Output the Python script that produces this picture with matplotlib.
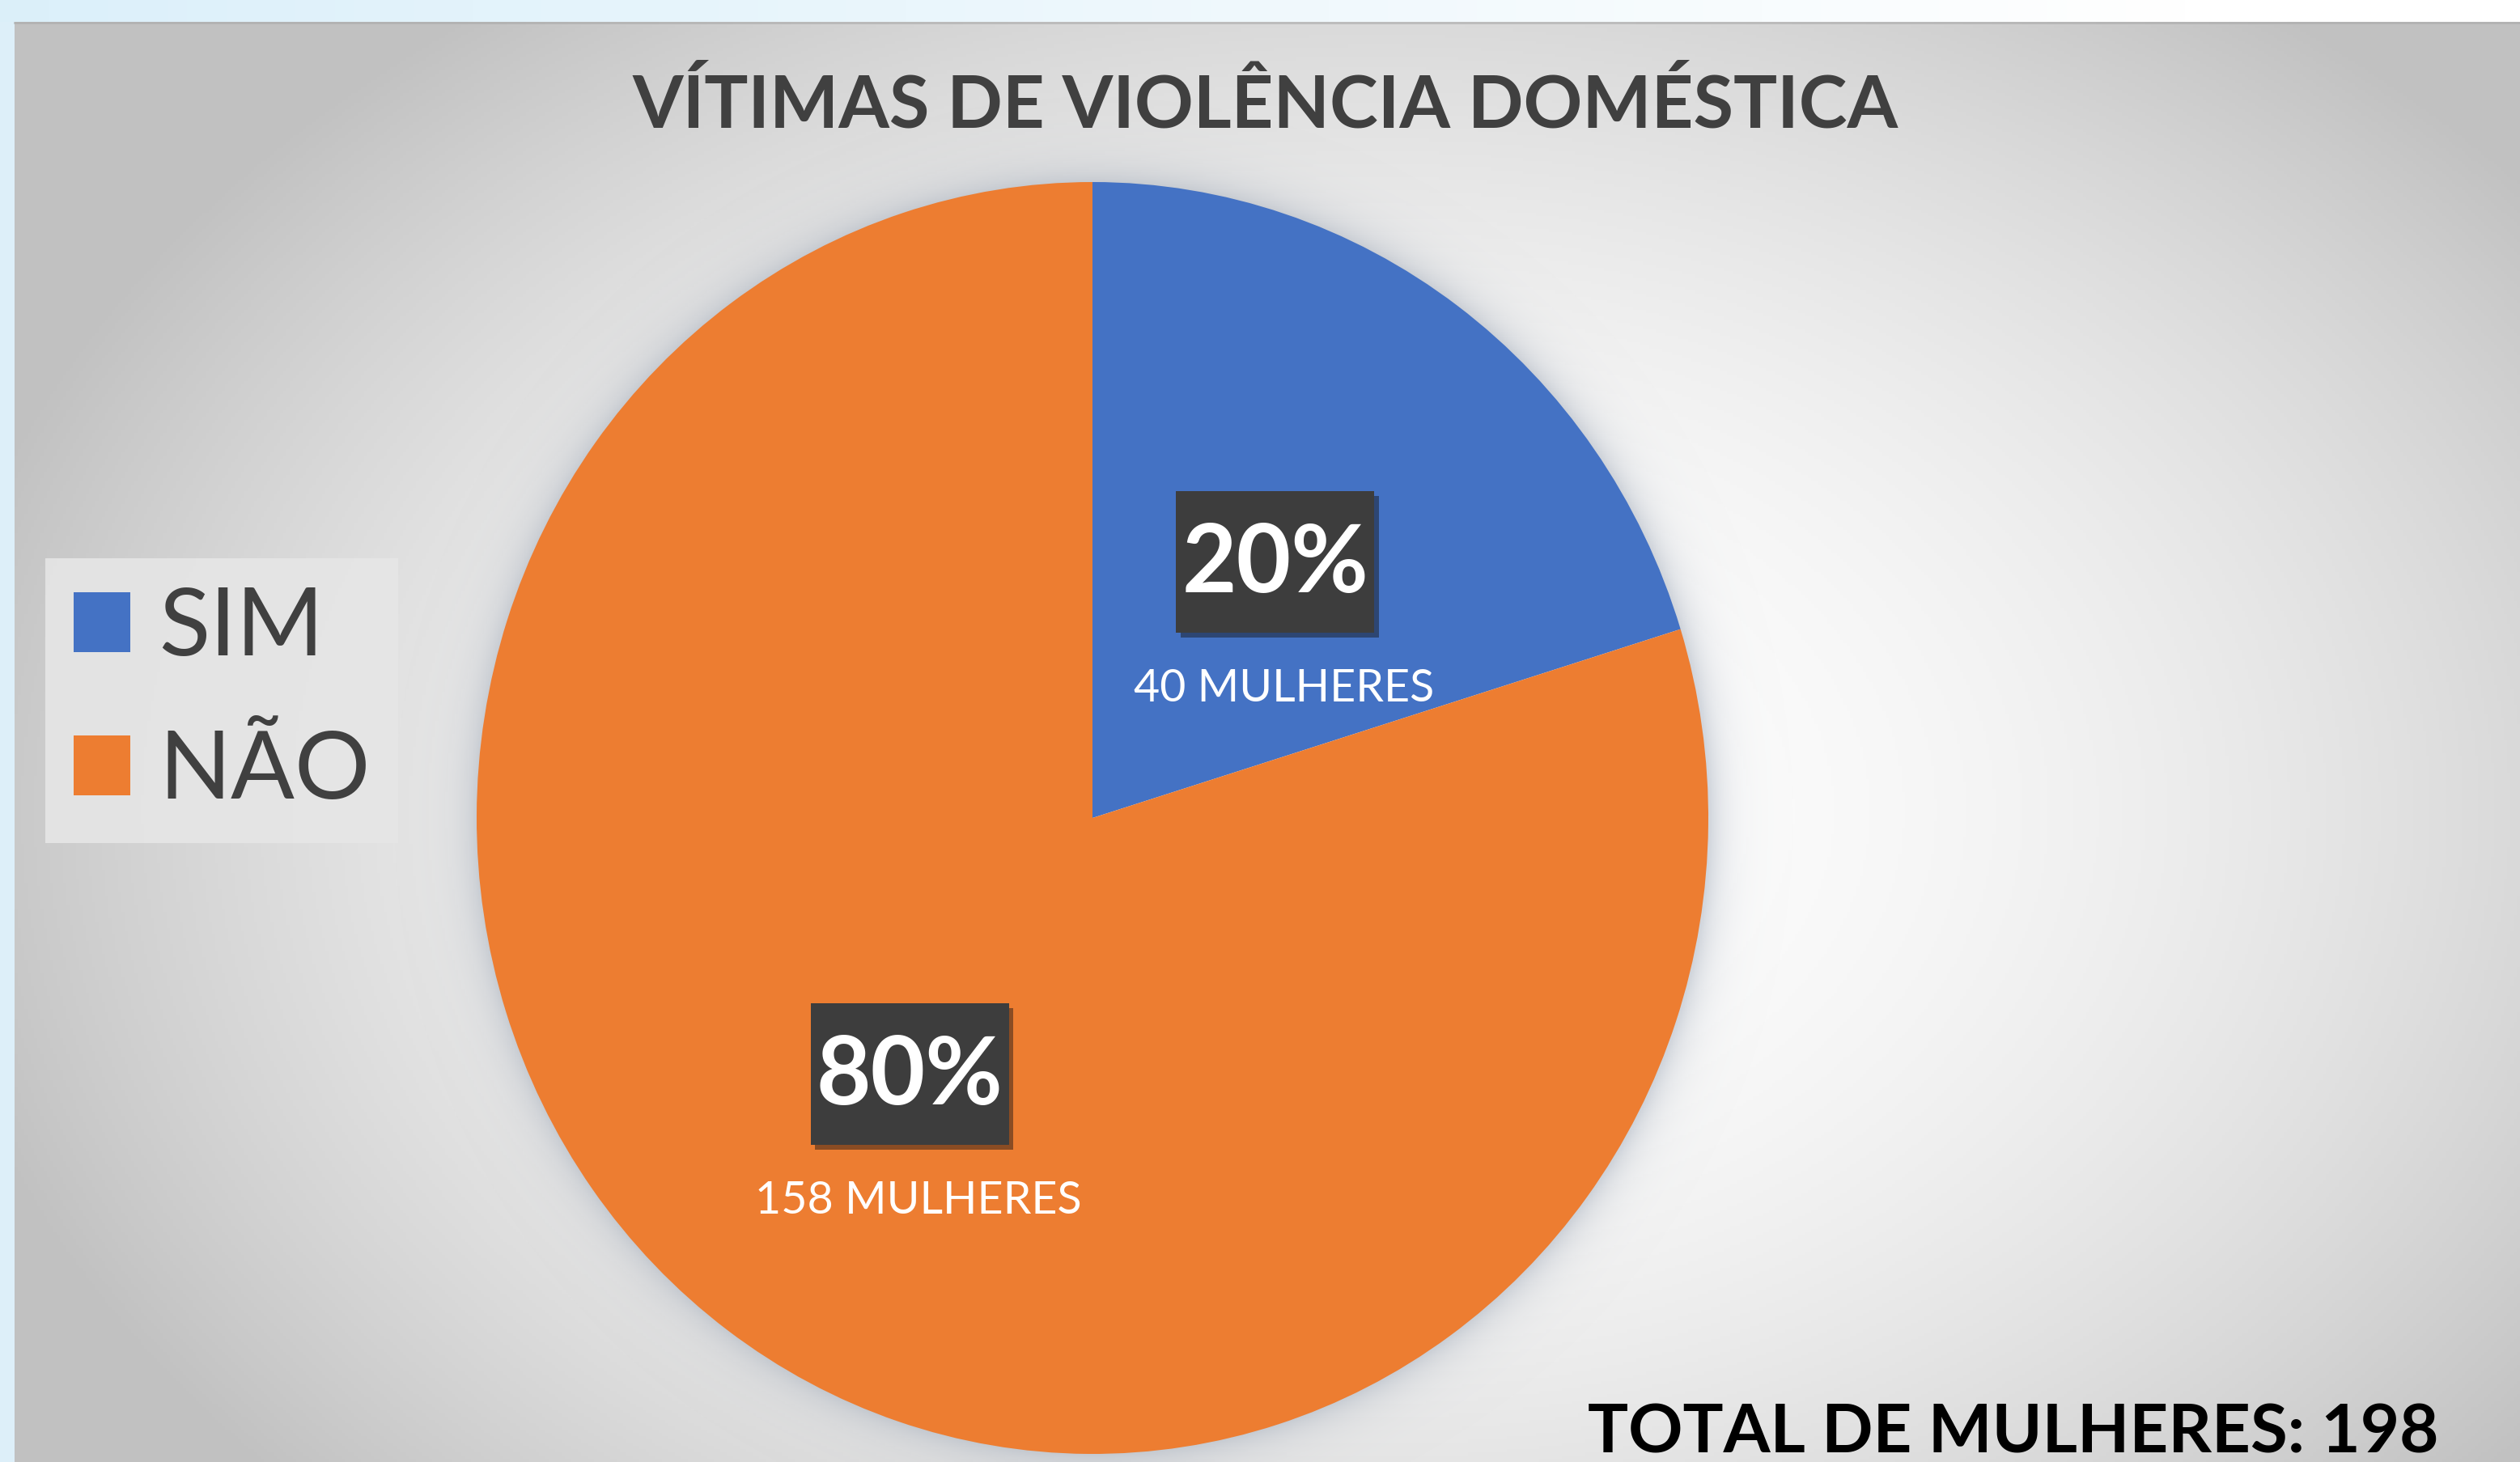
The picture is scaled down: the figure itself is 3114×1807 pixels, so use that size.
import numpy as np
import matplotlib
matplotlib.use('Agg')
import matplotlib.pyplot as plt
import matplotlib.patheffects as pe
from matplotlib.patches import Rectangle

# data
labels = ['SIM', 'NÃO']
counts = [40, 158]
pct_text = ['20%', '80%']
sub_text = ['40 MULHERES', '158 MULHERES']
colors = ['#4472C4', '#ED7D31']
title = 'VÍTIMAS DE VIOLÊNCIA DOMÉSTICA'
total_text = 'TOTAL DE MULHERES: 198'

W, H = 3114, 1807
plt.rcParams['font.family'] = ['Lato', 'DejaVu Sans']

fig = plt.figure(figsize=(W / 100, H / 100), dpi=100)
fig.patch.set_facecolor('#ddeff9')

# background (pixel coords)
bg = fig.add_axes([0, 0, 1, 1])
bg.set_xlim(0, W)
bg.set_ylim(H, 0)
bg.axis('off')

# top band: light blue -> white
band = np.linspace(0, 1, 256)[None, :, None]
c0 = np.array([0.86, 0.94, 0.98])
c1 = np.array([1.0, 1.0, 1.0])
band_img = c0 * (1 - np.clip(band * 1.15, 0, 1)) + c1 * np.clip(band * 1.15, 0, 1)
bg.imshow(band_img, extent=(0, W, 27, 0), aspect='auto', zorder=0)

# panel with radial gradient
px0, py0 = 18, 27
yy, xx = np.mgrid[py0:H:4, px0:W:4]
d2 = ((xx - 1700) / 1800.0) ** 2 + ((yy - 1000) / 1250.0) ** 2
val = 1 - 0.24 * np.clip(d2, 0, 1)
panel = np.dstack([val, val, val])
bg.imshow(panel, extent=(px0, W, H, py0), aspect='auto', zorder=1)
bg.plot([px0, W], [py0 + 1, py0 + 1], color='#a8a8a8', lw=2, alpha=0.6, zorder=2)

# soft halo around pie
cx, cy, rx, ry = 1350, 1011, 761, 786
yy, xx = np.mgrid[0:H:3, 0:W:3]
r = np.sqrt(((xx - cx) / rx) ** 2 + ((yy - cy) / ry) ** 2)
dist = (r - 1) * 770
alpha = np.where(dist > -5, 0.45 * np.exp(-np.clip(dist, 0, None) / 22.0), 0)
halo = np.zeros(r.shape + (4,))
halo[..., 0] = 0.62
halo[..., 1] = 0.66
halo[..., 2] = 0.72
halo[..., 3] = alpha
bg.imshow(halo, extent=(0, W, H, 0), aspect='auto', zorder=3)

# pie
ax = fig.add_axes([(cx - rx) / W, (H - cy - ry) / H, 2 * rx / W, 2 * ry / H])
ax.patch.set_alpha(0)
wedges, _ = ax.pie(counts, colors=colors, startangle=90, counterclock=False,
                   wedgeprops=dict(edgecolor='none'))
ax.set_aspect('auto')
ax.set_xlim(-1, 1)
ax.set_ylim(-1, 1)

bw, bh = 245 / rx, 175 / ry
for w, p, s in zip(wedges, pct_text, sub_text):
    ang = np.deg2rad((w.theta1 + w.theta2) / 2)
    x, y = 0.5 * np.cos(ang), 0.5 * np.sin(ang)
    box = Rectangle((x - bw / 2, y - bh / 2), bw, bh, facecolor='#3d3d3d', edgecolor='none', zorder=3)
    box.set_path_effects([pe.withSimplePatchShadow(offset=(4, -4), alpha=0.45), pe.Normal()])
    ax.add_patch(box)
    ax.text(x, y - 0.005, p, ha='center', va='center', color='white',
            fontsize=84, fontweight='bold', zorder=4)
    ax.text(x + 0.014, y - 0.2, s, ha='center', va='center', color='white', fontsize=40, zorder=4)

# legend
leg = fig.legend(wedges, labels, loc='upper left', bbox_to_anchor=(56 / W, 1 - 690 / H),
                 fontsize=84, frameon=True, fancybox=False, handlelength=0.6, handleheight=0.6,
                 handletextpad=0.3, labelspacing=0.62, borderpad=0.3, borderaxespad=0)
leg.get_frame().set_facecolor('#e6e6e6')
leg.get_frame().set_edgecolor('none')
leg.get_frame().set_alpha(0.9)
for txt in leg.get_texts():
    txt.set_color('#404040')

fig.text(1564 / W, 1 - 158 / H, title, ha='center', va='baseline',
         fontsize=65, fontweight='bold', color='#404040')
fig.text(3013 / W, 1 - 1796 / H, total_text, ha='right', va='baseline',
         fontsize=60, fontweight='bold', color='black')

fig.savefig('out.png', dpi=100, facecolor=fig.get_facecolor())
